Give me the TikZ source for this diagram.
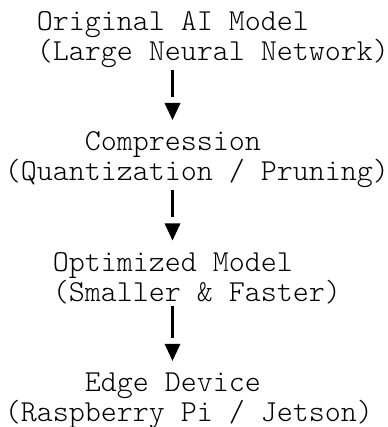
\documentclass[tikz,border=0pt]{standalone}
\usepackage{fontspec}
\newfontfamily\flowmono{Latin Modern Mono Light}
\begin{document}
\begin{tikzpicture}[x=0.75pt,y=-0.75pt,
  line/.style={font=\flowmono\fontsize{22.86}{24}\selectfont, inner sep=0pt, anchor=base west},
  stem/.style={line width=1.6pt, shorten <=1.5pt, shorten >=4.5pt},
  downmark/.style={minimum width=12pt, minimum height=12.75pt, inner sep=0pt,
    path picture={\fill (path picture bounding box.north west)
      -- (path picture bounding box.north east)
      -- (path picture bounding box.south) -- cycle;}}]
\useasboundingbox (0,0) rectangle (387,427);

% stage labels, set on a monospace grid (16px per column)
\node[line] (s1a) at (36.5,30.5)  {Original AI Model};
\node[line] (s1b) at (36.5,60.6)  {(Large Neural Network)};
\node[line] (s2a) at (84.5,150.9) {Compression};
\node[line] (s2b) at (4.5,181.0)  {(Quantization / Pruning)};
\node[line] (s3a) at (52.5,271.3) {Optimized Model};
\node[line] (s3b) at (52.5,301.4) {(Smaller \& Faster)};
\node[line] (s4a) at (84.5,391.7) {Edge Device};
\node[line] (s4b) at (4.5,421.0)  {(Raspberry Pi / Jetson)};

% arrow heads between the stages
\node[downmark] (m1) at (172.5,111.5) {};
\node[downmark] (m2) at (172.5,231.9) {};
\node[downmark] (m3) at (172.5,352.3) {};

% stems
\draw[stem] (s1b.south -| m1.north) -- (m1.north);
\draw[stem] (s2b.south -| m2.north) -- (m2.north);
\draw[stem] (s3b.south -| m3.north) -- (m3.north);
\end{tikzpicture}
\end{document}
